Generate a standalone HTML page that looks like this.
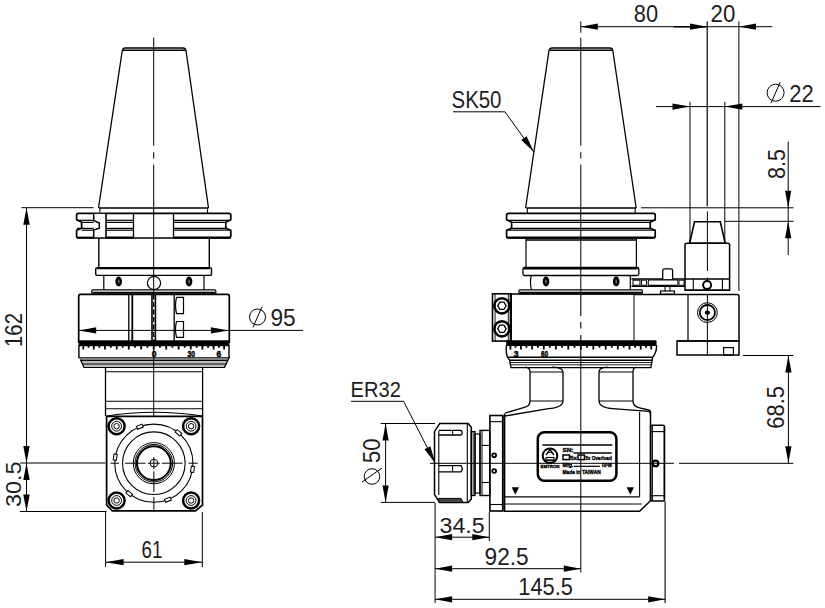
<!DOCTYPE html>
<html><head><meta charset="utf-8"><style>
html,body{margin:0;padding:0;background:#fff;}
body{width:825px;height:608px;overflow:hidden;}
svg{display:block;}
text{font-family:"Liberation Sans",sans-serif;fill:#1c1c1c;stroke:none;}
</style></head><body>
<svg width="825" height="608" viewBox="0 0 825 608" stroke="#000" fill="none" stroke-linecap="butt">
<line x1="153.7" y1="37.6" x2="153.7" y2="145.8" stroke-width="1.0" />
<line x1="153.7" y1="152.2" x2="153.7" y2="158.6" stroke-width="1.0" />
<line x1="153.7" y1="164.6" x2="153.7" y2="294.4" stroke-width="1.0" />
<line x1="153.7" y1="341" x2="153.7" y2="455" stroke-width="1.0" />
<path d="M98.5,208 L122.3,50.5 Q123,48 125,48 L183,48 Q185.5,48 186,50.5 L208.5,208" fill="none" stroke-width="1.3" />
<line x1="123" y1="50.3" x2="185.5" y2="50.3" stroke-width="1.4" />
<line x1="98.9" y1="208" x2="208.5" y2="208" stroke-width="1.5" />
<line x1="99.9" y1="208" x2="99.9" y2="213.3" stroke-width="1.1" />
<line x1="207.5" y1="208" x2="207.5" y2="213.3" stroke-width="1.1" />
<path d="M78.6,213.3 L228.8,213.3 Q230.8,213.3 230.8,215.3 L230.8,219.8 L225.8,222.3 L225.8,228.2 L230.8,230.3 L230.8,236 Q230.8,238 228.8,238 L78.6,238 Q76.6,238 76.6,236 L76.6,230.3 L81.6,228.2 L81.6,222.3 L76.6,219.8 L76.6,215.3 Q76.6,213.3 78.6,213.3 Z" fill="none" stroke-width="1.7" />
<path d="M93.7,212.5 L106,212.5 L106,238.6 L93.7,238.6 Z" fill="#fff" stroke="none"/>
<path d="M93.7,213.3 L93.7,220.5 L99.3,223 L99.3,228.3 L93.7,230 L93.7,238" fill="none" stroke-width="1.5" />
<line x1="93.7" y1="213.3" x2="106" y2="213.3" stroke-width="1.2" />
<line x1="93.7" y1="238" x2="106" y2="238" stroke-width="1.4" />
<line x1="106" y1="213.3" x2="106" y2="238" stroke-width="1.6" />
<line x1="133.5" y1="213.3" x2="133.5" y2="238" stroke-width="1.3" />
<line x1="173.5" y1="213.3" x2="173.5" y2="238" stroke-width="1.3" />
<line x1="77" y1="220.3" x2="93.7" y2="220.3" stroke-width="1.2" />
<line x1="106" y1="220.3" x2="133.5" y2="220.3" stroke-width="1.2" />
<line x1="173.5" y1="220.3" x2="230.6" y2="220.3" stroke-width="1.2" />
<line x1="81.6" y1="222.4" x2="93.7" y2="222.4" stroke-width="1.2" />
<line x1="106" y1="222.4" x2="133.5" y2="222.4" stroke-width="1.2" />
<line x1="173.5" y1="222.4" x2="225.8" y2="222.4" stroke-width="1.2" />
<line x1="77" y1="228.4" x2="93.7" y2="228.4" stroke-width="1.2" />
<line x1="106" y1="228.4" x2="133.5" y2="228.4" stroke-width="1.2" />
<line x1="173.5" y1="228.4" x2="225.8" y2="228.4" stroke-width="1.2" />
<line x1="81.6" y1="230.2" x2="93.7" y2="230.2" stroke-width="1.2" />
<line x1="106" y1="230.2" x2="133.5" y2="230.2" stroke-width="1.2" />
<line x1="173.5" y1="230.2" x2="230.6" y2="230.2" stroke-width="1.2" />
<line x1="106" y1="237.6" x2="133.5" y2="237.6" stroke-width="2.2" />
<line x1="173.5" y1="237.6" x2="230" y2="237.6" stroke-width="2.2" />
<line x1="77.5" y1="237.6" x2="93.7" y2="237.6" stroke-width="2.0" />
<line x1="98.8" y1="238" x2="98.8" y2="267.5" stroke-width="1.4" />
<line x1="209.3" y1="238" x2="209.3" y2="267.5" stroke-width="1.4" />
<rect x="95.7" y="267.6" width="115.8" height="7.8" rx="1.5" fill="none" stroke-width="1.4" />
<line x1="97" y1="268.3" x2="210" y2="268.3" stroke-width="2.0" />
<line x1="103.8" y1="276" x2="103.8" y2="290" stroke-width="1.2" />
<line x1="204" y1="276" x2="204" y2="290" stroke-width="1.2" />
<ellipse cx="118.7" cy="281.5" rx="3.3" ry="4.9" fill="#000" stroke="none"/>
<ellipse cx="189" cy="281.5" rx="3.3" ry="4.9" fill="#000" stroke="none"/>
<ellipse cx="118.7" cy="281.5" rx="0.8" ry="2" fill="#777" stroke="none"/>
<ellipse cx="189" cy="281.5" rx="0.8" ry="2" fill="#777" stroke="none"/>
<circle cx="154" cy="283" r="6.6" fill="none" stroke-width="1.2" />
<rect x="91.8" y="289.8" width="124" height="4.2" rx="1" fill="none" stroke-width="1.2" />
<line x1="92.5" y1="292.6" x2="215" y2="292.6" stroke-width="1.6" />
<path d="M78.7,343 L78.7,296.4 Q78.7,294.4 80.5,294.4 L227.5,294.4 Q229.3,294.4 229.3,296.4 L229.3,343" fill="none" stroke-width="1.7" />
<line x1="128.8" y1="294.4" x2="128.8" y2="341" stroke-width="1.3" />
<line x1="132.3" y1="294.4" x2="132.3" y2="341" stroke-width="1.8" />
<line x1="152" y1="294.4" x2="152" y2="341" stroke-width="1.6" />
<line x1="155.4" y1="294.4" x2="155.4" y2="341" stroke-width="1.6" />
<line x1="153.7" y1="294.4" x2="153.7" y2="341" stroke-width="1.4" stroke-dasharray="5,2.5"/>
<line x1="174.2" y1="294.4" x2="174.2" y2="341" stroke-width="1.3" />
<path d="M176.5,297.4 L183.5,297.4 L183.5,313.6 L176.5,313.6 Q174.5,305.5 176.5,297.4" fill="none" stroke-width="1.2" />
<path d="M176.5,321.5 L183.5,321.5 L183.5,337.3 L176.5,337.3 Q174.5,329.4 176.5,321.5" fill="none" stroke-width="1.2" />
<rect x="78.7" y="340.3" width="150.6" height="5.9" rx="0" fill="#000" stroke-width="0" />
<path d="M153.70,345.5 L153.70,349.60 M159.97,345.5 L159.97,347.70 M147.43,345.5 L147.43,347.70 M166.22,345.5 L166.22,349.60 M141.18,345.5 L141.18,349.60 M172.43,345.5 L172.43,347.70 M134.97,345.5 L134.97,347.70 M178.60,345.5 L178.60,349.60 M128.80,345.5 L128.80,349.60 M184.69,345.5 L184.69,347.70 M122.71,345.5 L122.71,347.70 M190.71,345.5 L190.71,349.60 M116.69,345.5 L116.69,349.60 M196.62,345.5 L196.62,347.70 M110.78,345.5 L110.78,347.70 M202.41,345.5 L202.41,349.60 M104.99,345.5 L104.99,349.60 M208.07,345.5 L208.07,347.70 M99.33,345.5 L99.33,347.70 M213.59,345.5 L213.59,349.60 M93.81,345.5 L93.81,349.60 M218.93,345.5 L218.93,347.70 M88.47,345.5 L88.47,347.70 M224.11,345.5 L224.11,349.60 M83.29,345.5 L83.29,349.60 " fill="none" stroke-width="1.8" />
<line x1="78.9" y1="345" x2="78.9" y2="358" stroke-width="1.4" />
<line x1="229" y1="345" x2="229" y2="358" stroke-width="1.4" />
<path d="M78.9,357.8 L229,357.8 L224.5,367.4 L84,367.4 L80.5,359.5" fill="none" stroke-width="1.3" />
<line x1="80.5" y1="360.4" x2="227.5" y2="360.4" stroke-width="1.6" />
<line x1="82" y1="363.2" x2="226" y2="363.2" stroke-width="0.9" />
<line x1="82.5" y1="364.8" x2="225.5" y2="364.8" stroke-width="0.9" />
<g font-weight="bold" style="fill:#000;stroke:#000;stroke-width:0.5">
<text x="154" y="357.2" text-anchor="middle" font-size="8.5" style="fill:#000;stroke:#000;stroke-width:0.45">0</text>
<text x="191.2" y="357.2" text-anchor="middle" font-size="8.5" style="fill:#000;stroke:#000;stroke-width:0.45" textLength="7.5" lengthAdjust="spacingAndGlyphs">30</text>
<text x="218.8" y="357.2" text-anchor="middle" font-size="8.5" style="fill:#000;stroke:#000;stroke-width:0.45">6</text>
</g>
<line x1="105.5" y1="367.4" x2="105.5" y2="416" stroke-width="1.3" />
<line x1="202.6" y1="367.4" x2="202.6" y2="416" stroke-width="1.3" />
<line x1="105.5" y1="371.7" x2="202.6" y2="371.7" stroke-width="1.1" />
<line x1="105.5" y1="401.3" x2="202.6" y2="401.3" stroke-width="1.1" />
<line x1="105.5" y1="408.8" x2="202.6" y2="408.8" stroke-width="1.1" />
<path d="M106.6,416.3 L106.6,505 L112.3,510.9 L195.5,510.9 L202.5,505 L202.5,416.3 Z" fill="#fff" stroke-width="1.7"/>
<path d="M107,416 Q154,408.5 202,416" fill="none" stroke-width="1.1" />
<circle cx="116.6" cy="426.2" r="8.0" fill="none" stroke-width="2.5" />
<circle cx="116.6" cy="426.2" r="4.9" fill="none" stroke-width="1.0" />
<circle cx="116.6" cy="426.2" r="2.7" fill="none" stroke-width="1.0" />
<circle cx="191.1" cy="426.2" r="8.0" fill="none" stroke-width="2.5" />
<circle cx="191.1" cy="426.2" r="4.9" fill="none" stroke-width="1.0" />
<circle cx="191.1" cy="426.2" r="2.7" fill="none" stroke-width="1.0" />
<circle cx="116.6" cy="500.5" r="8.0" fill="none" stroke-width="2.5" />
<circle cx="116.6" cy="500.5" r="4.9" fill="none" stroke-width="1.0" />
<circle cx="116.6" cy="500.5" r="2.7" fill="none" stroke-width="1.0" />
<circle cx="191.1" cy="500.5" r="8.0" fill="none" stroke-width="2.5" />
<circle cx="191.1" cy="500.5" r="4.9" fill="none" stroke-width="1.0" />
<circle cx="191.1" cy="500.5" r="2.7" fill="none" stroke-width="1.0" />
<circle cx="153.85" cy="463.2" r="39.1" fill="none" stroke-width="1.1" />
<circle cx="153.85" cy="463.2" r="31.3" fill="none" stroke-width="1.1" />
<circle cx="153.85" cy="463.2" r="20.6" fill="none" stroke-width="1.0" />
<circle cx="153.85" cy="463.2" r="18.8" fill="none" stroke-width="1.0" />
<circle cx="153.85" cy="463.2" r="16.9" fill="none" stroke-width="2.0" />
<circle cx="153.85" cy="463.2" r="3.9" fill="none" stroke-width="1.0" />
<line x1="147.85" y1="463.2" x2="159.85" y2="463.2" stroke-width="1.0" />
<line x1="153.85" y1="457.2" x2="153.85" y2="469.2" stroke-width="1.0" />
<line x1="110.5" y1="463.2" x2="119" y2="463.2" stroke-width="1.0" />
<line x1="125" y1="463.2" x2="145.6" y2="463.2" stroke-width="1.0" />
<line x1="162" y1="463.2" x2="182.6" y2="463.2" stroke-width="1.0" />
<line x1="188.6" y1="463.2" x2="197.7" y2="463.2" stroke-width="1.0" />
<line x1="153.85" y1="471.4" x2="153.85" y2="492" stroke-width="1.0" />
<line x1="153.85" y1="497" x2="153.85" y2="512" stroke-width="1.0" />
<rect x="113.6" y="454.1" width="3.2" height="6" fill="#fff" stroke-width="1.0" transform="rotate(-171 115.2 457.1)"/>
<rect x="138.2" y="423.7" width="3.2" height="6" fill="#fff" stroke-width="1.0" transform="rotate(-111 139.8 426.7)"/>
<rect x="176.9" y="429.8" width="3.2" height="6" fill="#fff" stroke-width="1.0" transform="rotate(-51 178.5 432.8)"/>
<rect x="190.9" y="466.3" width="3.2" height="6" fill="#fff" stroke-width="1.0" transform="rotate(9 192.5 469.3)"/>
<rect x="166.3" y="496.7" width="3.2" height="6" fill="#fff" stroke-width="1.0" transform="rotate(69 167.9 499.7)"/>
<rect x="127.6" y="490.6" width="3.2" height="6" fill="#fff" stroke-width="1.0" transform="rotate(129 129.2 493.6)"/>
<line x1="21.5" y1="207.7" x2="93.6" y2="207.7" stroke-width="1.0" />
<line x1="26.5" y1="207.8" x2="26.5" y2="511.5" stroke-width="1.0" />
<path d="M26.5,207.8 L23.3,224.8 L29.7,224.8 Z" fill="#000" stroke="none"/>
<path d="M26.5,463 L23.3,446 L29.7,446 Z" fill="#000" stroke="none"/>
<path d="M26.5,463 L23.3,480 L29.7,480 Z" fill="#000" stroke="none"/>
<path d="M26.5,511.5 L23.3,494.5 L29.7,494.5 Z" fill="#000" stroke="none"/>
<line x1="20" y1="463" x2="105.5" y2="463" stroke-width="1.0" />
<line x1="20" y1="511.5" x2="106.5" y2="511.5" stroke-width="1.0" />
<text x="22.4" y="347" font-size="23" text-anchor="start" transform="rotate(-90 22.4 347)" textLength="34" lengthAdjust="spacingAndGlyphs">162</text>
<text x="20.9" y="507" font-size="22.5" text-anchor="start" transform="rotate(-90 20.9 507)" textLength="45.5" lengthAdjust="spacingAndGlyphs">30.5</text>
<line x1="105.6" y1="512" x2="105.6" y2="567" stroke-width="1.0" />
<line x1="202.3" y1="512" x2="202.3" y2="567" stroke-width="1.0" />
<line x1="105.6" y1="562.2" x2="202.3" y2="562.2" stroke-width="1.0" />
<path d="M105.6,562.2 L123.6,559.1 L123.6,565.3000000000001 Z" fill="#000" stroke="none"/>
<path d="M202.3,562.2 L184.3,559.1 L184.3,565.3000000000001 Z" fill="#000" stroke="none"/>
<text x="141.5" y="557.7" font-size="23.5" text-anchor="start" textLength="20.8" lengthAdjust="spacingAndGlyphs">61</text>
<line x1="78.7" y1="330.4" x2="303" y2="330.4" stroke-width="1.0" />
<path d="M78.7,330.4 L96.2,327.29999999999995 L96.2,333.5 Z" fill="#000" stroke="none"/>
<path d="M228.4,330.4 L210.9,327.29999999999995 L210.9,333.5 Z" fill="#000" stroke="none"/>
<g>
<circle cx="257.5" cy="317" r="8" fill="none" stroke-width="1.0" />
<line x1="252.9" y1="327.5" x2="262.1" y2="306.5" stroke-width="1.0" />
</g>
<text x="270.5" y="326" font-size="23.5" text-anchor="start" textLength="25.2" lengthAdjust="spacingAndGlyphs">95</text>
<line x1="580.8" y1="21.4" x2="580.8" y2="32.8" stroke-width="1.0" />
<line x1="580.8" y1="37.7" x2="580.8" y2="145.8" stroke-width="1.0" />
<line x1="580.8" y1="152.2" x2="580.8" y2="158.6" stroke-width="1.0" />
<line x1="580.8" y1="164.6" x2="580.8" y2="294" stroke-width="1.0" />
<line x1="580.8" y1="342" x2="580.8" y2="572.5" stroke-width="1.0" />
<path d="M525.6,208 L549,50.5 Q549.7,48 552,48 L610,48 Q612.5,48 612.8,50.5 L636.2,208" fill="none" stroke-width="1.3" />
<line x1="550" y1="50.3" x2="612.5" y2="50.3" stroke-width="1.4" />
<line x1="526.3" y1="208" x2="636.2" y2="208" stroke-width="1.5" />
<line x1="527.3" y1="208" x2="527.3" y2="213.3" stroke-width="1.1" />
<line x1="635.2" y1="208" x2="635.2" y2="213.3" stroke-width="1.1" />
<path d="M508.6,213.3 L653.2,213.3 Q655.2,213.3 655.2,215.3 L655.2,219.8 L650.2,222.3 L650.2,228.2 L655.2,230.3 L655.2,236 Q655.2,238 653.2,238 L508.6,238 Q506.6,238 506.6,236 L506.6,230.3 L511.6,228.2 L511.6,222.3 L506.6,219.8 L506.6,215.3 Q506.6,213.3 508.6,213.3 Z" fill="none" stroke-width="1.7" />
<line x1="507" y1="220.3" x2="655" y2="220.3" stroke-width="1.2" />
<line x1="507" y1="230.2" x2="655" y2="230.2" stroke-width="1.2" />
<line x1="511.6" y1="222.4" x2="650.2" y2="222.4" stroke-width="1.2" />
<line x1="511.6" y1="228.4" x2="650.2" y2="228.4" stroke-width="1.2" />
<line x1="508" y1="237.6" x2="653.5" y2="237.6" stroke-width="2.2" />
<line x1="526" y1="238.6" x2="526" y2="267.2" stroke-width="1.2" />
<line x1="636.4" y1="238.6" x2="636.4" y2="267.2" stroke-width="1.2" />
<line x1="526" y1="240" x2="636.4" y2="240" stroke-width="1.5" />
<rect x="523" y="267.5" width="115.8" height="8" rx="1.5" fill="none" stroke-width="1.3" />
<line x1="524" y1="268.3" x2="637.5" y2="268.3" stroke-width="2.2" />
<path d="M531.4,275.5 Q529.5,282 531.4,289.5" fill="none" stroke-width="1.2" />
<line x1="630.3" y1="275.5" x2="630.3" y2="289.5" stroke-width="1.2" />
<ellipse cx="546" cy="281.5" rx="3.3" ry="4.9" fill="#000" stroke="none"/>
<ellipse cx="616.2" cy="281.5" rx="3.3" ry="4.9" fill="#000" stroke="none"/>
<ellipse cx="546" cy="281.5" rx="0.8" ry="2" fill="#777" stroke="none"/>
<ellipse cx="616.2" cy="281.5" rx="0.8" ry="2" fill="#777" stroke="none"/>
<rect x="519" y="289.8" width="123.4" height="4.2" rx="1" fill="none" stroke-width="1.2" />
<line x1="519.7" y1="292.6" x2="641.7" y2="292.6" stroke-width="1.6" />
<path d="M510.3,294 L634,294" fill="none" stroke-width="1.5" />
<line x1="634" y1="294" x2="634" y2="341" stroke-width="1.0" />
<line x1="510.3" y1="294" x2="510.3" y2="342" stroke-width="1.3" />
<rect x="492.5" y="293.8" width="18.7" height="47.3" rx="0" fill="none" stroke-width="1.6" />
<line x1="495.1" y1="293.8" x2="495.1" y2="341" stroke-width="0.9" />
<line x1="508.3" y1="293.8" x2="508.3" y2="341" stroke-width="0.9" />
<circle cx="501.9" cy="305.8" r="7.6" fill="none" stroke-width="2.5" />
<path d="M497.7,305.8 L499.79999999999995,302.2 L504.0,302.2 L506.09999999999997,305.8 L504.0,309.40000000000003 L499.79999999999995,309.40000000000003 Z" fill="none" stroke-width="1.3"/>
<circle cx="501.9" cy="328.8" r="7.6" fill="none" stroke-width="2.5" />
<path d="M497.7,328.8 L499.79999999999995,325.2 L504.0,325.2 L506.09999999999997,328.8 L504.0,332.40000000000003 L499.79999999999995,332.40000000000003 Z" fill="none" stroke-width="1.3"/>
<line x1="580.8" y1="294" x2="580.8" y2="316.1" stroke-width="1.1" />
<line x1="580.8" y1="322" x2="580.8" y2="328.5" stroke-width="1.1" />
<line x1="580.8" y1="334.9" x2="580.8" y2="342" stroke-width="1.1" />
<rect x="506.2" y="340.3" width="150.3" height="5.7" rx="1" fill="#000" stroke-width="0" />
<path d="M580.80,345.5 L580.80,349.60 M587.07,345.5 L587.07,347.70 M574.53,345.5 L574.53,347.70 M593.32,345.5 L593.32,349.60 M568.28,345.5 L568.28,349.60 M599.53,345.5 L599.53,347.70 M562.07,345.5 L562.07,347.70 M605.70,345.5 L605.70,349.60 M555.90,345.5 L555.90,349.60 M611.79,345.5 L611.79,347.70 M549.81,345.5 L549.81,347.70 M617.81,345.5 L617.81,349.60 M543.79,345.5 L543.79,349.60 M623.72,345.5 L623.72,347.70 M537.88,345.5 L537.88,347.70 M629.51,345.5 L629.51,349.60 M532.09,345.5 L532.09,349.60 M635.17,345.5 L635.17,347.70 M526.43,345.5 L526.43,347.70 M640.69,345.5 L640.69,349.60 M520.91,345.5 L520.91,349.60 M646.03,345.5 L646.03,347.70 M515.57,345.5 L515.57,347.70 M651.21,345.5 L651.21,349.60 M510.39,345.5 L510.39,349.60 " fill="none" stroke-width="1.8" />
<path d="M506.5,345 Q505.5,352 507.5,357.2 L652.6,357.2 Q657,352 656.5,345" fill="none" stroke-width="1.4" />
<path d="M507.5,357.2 L509.5,360 L511,367.6 L651,367.6 L652.6,357.2" fill="none" stroke-width="1.3" />
<line x1="509" y1="360.3" x2="653" y2="360.3" stroke-width="1.6" />
<line x1="510" y1="362.5" x2="652" y2="362.5" stroke-width="0.9" />
<line x1="510.5" y1="364.8" x2="652" y2="364.8" stroke-width="0.9" />
<g font-weight="bold" style="fill:#000;stroke:#000;stroke-width:0.5">
<text x="516" y="357.2" text-anchor="middle" font-size="8.5" style="fill:#000;stroke:#000;stroke-width:0.45">3</text>
<text x="544.5" y="357.2" text-anchor="middle" font-size="8.5" style="fill:#000;stroke:#000;stroke-width:0.45" textLength="7" lengthAdjust="spacingAndGlyphs">60</text>
</g>
<path d="M525,367.2 Q530,367.5 530,372 L530,400.7 Q530,406.5 523.5,407.6 L505,413.2" fill="none" stroke-width="1.3" />
<path d="M552,367.2 Q563,367.5 563,372 L563,400.7 Q563,407.5 548.5,408.6 L505,416" fill="none" stroke-width="1.3" />
<line x1="530" y1="372" x2="563" y2="372" stroke-width="1.1" />
<line x1="530" y1="401" x2="563" y2="401" stroke-width="1.1" />
<path d="M607.6,367.2 Q599,367.5 599,372 L599,400.7 Q599,407.5 612.5,408.6 L649,411.4 L650.5,413.5" fill="none" stroke-width="1.3" />
<path d="M636.7,367.2 Q633,367.5 633,372 L633,400.7 Q633,406.5 639.6,407.8 L650.5,410.5" fill="none" stroke-width="1.3" />
<line x1="599" y1="372" x2="633" y2="372" stroke-width="1.1" />
<line x1="599" y1="401" x2="633" y2="401" stroke-width="1.1" />
<path d="M504.6,413.4 L504.6,511.2 L639.6,511.2 L650.5,500.7 L650.5,411" fill="none" stroke-width="1.5" />
<line x1="502.9" y1="415.5" x2="502.9" y2="511.2" stroke-width="1.4" />
<line x1="639.6" y1="412" x2="639.6" y2="496.8" stroke-width="1.1" />
<line x1="505" y1="496.8" x2="639.6" y2="496.8" stroke-width="1.2" />
<line x1="505" y1="504" x2="641.8" y2="504" stroke-width="1.1" />
<rect x="489.9" y="415.5" width="12.8" height="95.5" rx="0" fill="none" stroke-width="1.6" />
<line x1="489.9" y1="421.7" x2="502.7" y2="421.7" stroke-width="1.1" />
<line x1="489.9" y1="504.5" x2="502.7" y2="504.5" stroke-width="1.1" />
<circle cx="494.2" cy="455.2" r="1.9" fill="none" stroke-width="1.8" />
<circle cx="494.2" cy="471" r="1.9" fill="none" stroke-width="1.8" />
<rect x="650.7" y="425.2" width="13.8" height="75.8" rx="1.5" fill="none" stroke-width="1.6" />
<line x1="664.3" y1="427" x2="664.3" y2="499" stroke-width="1.2" />
<line x1="652.5" y1="425.5" x2="652.5" y2="501.2" stroke-width="0.9" />
<line x1="650.7" y1="431.6" x2="664.5" y2="431.6" stroke-width="1.1" />
<line x1="650.7" y1="495.7" x2="664.5" y2="495.7" stroke-width="1.1" />
<circle cx="655.6" cy="463.4" r="2.8" fill="none" stroke-width="2.2" />
<rect x="537.8" y="432.2" width="78.6" height="48.5" rx="6.5" fill="none" stroke-width="2.5" />
<line x1="542.5" y1="445.1" x2="612.4" y2="445.1" stroke-width="1.5" />
<circle cx="550" cy="455.8" r="7.3" fill="none" stroke-width="2.0" />
<path d="M546,455 L550,449.5 L554,455" fill="none" stroke-width="1.3" />
<line x1="547.5" y1="452.5" x2="552.5" y2="452.5" stroke-width="0.9" />
<rect x="546" y="457.5" width="8" height="2.4" rx="0" fill="none" stroke-width="1.1" />
<line x1="545" y1="460.7" x2="555" y2="460.7" stroke-width="1.1" />
<g font-size="5.6" font-weight="bold" style="fill:#000;stroke:#000;stroke-width:0.35">
<text x="562.5" y="452.3" textLength="11" lengthAdjust="spacingAndGlyphs" style="fill:#000;stroke:#000;stroke-width:0.35">SN:</text>
<text x="570" y="460" textLength="7" lengthAdjust="spacingAndGlyphs" style="fill:#000;stroke:#000;stroke-width:0.35">5x</text>
<text x="585.3" y="460" textLength="26.4" lengthAdjust="spacingAndGlyphs" style="fill:#000;stroke:#000;stroke-width:0.35">3x Overload</text>
<text x="562.5" y="466.8" textLength="11" lengthAdjust="spacingAndGlyphs" style="fill:#000;stroke:#000;stroke-width:0.35">Mfg.</text>
<text x="601.9" y="466.8" textLength="9.8" lengthAdjust="spacingAndGlyphs" style="fill:#000;stroke:#000;stroke-width:0.35">RPM</text>
<text x="562.5" y="473.8" textLength="38.2" lengthAdjust="spacingAndGlyphs" style="fill:#000;stroke:#000;stroke-width:0.35">Made in TAIWAN</text>
<text x="540.5" y="468" font-size="4" textLength="19" lengthAdjust="spacingAndGlyphs" style="fill:#000;stroke:#000;stroke-width:0.3">EMTRON</text>
</g>
<line x1="573.5" y1="452.9" x2="611.7" y2="452.9" stroke-width="1.5" />
<line x1="574" y1="466.3" x2="599.9" y2="466.3" stroke-width="1.2" />
<rect x="563" y="455" width="6.5" height="4.6" rx="0" fill="none" stroke-width="1.5" />
<rect x="578" y="455" width="6.5" height="4.6" rx="0" fill="none" stroke-width="1.5" />
<path d="M512,487.6 L518.6,487.6 L515.3,494.2 Z" fill="#000" stroke-width="0.5" />
<path d="M627,487.6 L633.6,487.6 L630.3,494.2 Z" fill="#000" stroke-width="0.5" />
<line x1="430" y1="463.3" x2="673.9" y2="463.3" stroke-width="1.0" />
<path d="M439.7,423.5 L468.2,423.5 L471.3,427.3 L471.3,499 L468.2,502.5 L439.7,502.5 L434.5,494.6 L434.5,431.6 Z" fill="none" stroke-width="1.5" />
<line x1="438.8" y1="431" x2="438.8" y2="495" stroke-width="1.1" />
<line x1="467.3" y1="423.5" x2="467.3" y2="502.5" stroke-width="1.1" />
<path d="M438.8,430.4 L461,430.4 Q463.5,432.7 461,435 L438.8,435" fill="none" stroke-width="1.3" />
<line x1="452.6" y1="430.4" x2="452.6" y2="435" stroke-width="1.0" />
<path d="M438.8,465.6 L461,465.6 Q463.5,468.70000000000005 461,471.8 L438.8,471.8" fill="none" stroke-width="1.3" />
<line x1="452.6" y1="465.6" x2="452.6" y2="471.8" stroke-width="1.0" />
<path d="M438.8,498.4 L461,498.4 L463,502.5 L438.8,502.5 Z" fill="#444" stroke-width="1"/>
<rect x="471.3" y="431.6" width="3.7" height="63.9" rx="0" fill="none" stroke-width="1.3" />
<line x1="473.2" y1="431.6" x2="473.2" y2="495.5" stroke-width="0.9" />
<rect x="475" y="434" width="5" height="59" rx="0" fill="none" stroke-width="1.2" />
<rect x="480" y="430.4" width="9.8" height="65.1" rx="0" fill="none" stroke-width="1.4" />
<line x1="482" y1="430.4" x2="482" y2="495.5" stroke-width="1.0" />
<line x1="482" y1="445.4" x2="489.8" y2="445.4" stroke-width="1.1" />
<line x1="482" y1="482.5" x2="489.8" y2="482.5" stroke-width="1.1" />
<text x="350.6" y="397" font-size="22.5" text-anchor="start" textLength="50.3" lengthAdjust="spacingAndGlyphs">ER32</text>
<line x1="351" y1="401.3" x2="403.6" y2="401.3" stroke-width="1.0" />
<line x1="403.6" y1="401.3" x2="435.1" y2="462.9" stroke-width="1.0" />
<path d="M435.1,462.9 L424.5,449.2 L430.4,446.2 Z" fill="#000" stroke="none"/>
<line x1="380.7" y1="423.5" x2="435" y2="423.5" stroke-width="1.0" />
<line x1="380.7" y1="502.4" x2="435" y2="502.4" stroke-width="1.0" />
<line x1="385.6" y1="423.5" x2="385.6" y2="502.4" stroke-width="1.0" />
<path d="M385.6,423.5 L382.5,440.5 L388.70000000000005,440.5 Z" fill="#000" stroke="none"/>
<path d="M385.6,502.4 L382.5,485.4 L388.70000000000005,485.4 Z" fill="#000" stroke="none"/>
<circle cx="372" cy="476.5" r="7.8" fill="none" stroke-width="1.0" />
<line x1="382" y1="468" x2="362" y2="482" stroke-width="1.0" />
<text x="380.2" y="463" font-size="23.5" text-anchor="start" transform="rotate(-90 380.2 463)" textLength="24.5" lengthAdjust="spacingAndGlyphs">50</text>
<line x1="435.1" y1="503" x2="435.1" y2="603" stroke-width="1.0" />
<line x1="489.3" y1="512" x2="489.3" y2="541" stroke-width="1.0" />
<line x1="435.1" y1="537.2" x2="489.3" y2="537.2" stroke-width="1.0" />
<path d="M435.1,537.2 L452.1,534.1 L452.1,540.3000000000001 Z" fill="#000" stroke="none"/>
<path d="M489.3,537.2 L472.3,534.1 L472.3,540.3000000000001 Z" fill="#000" stroke="none"/>
<text x="439.5" y="532.5" font-size="22.5" text-anchor="start" textLength="45.1" lengthAdjust="spacingAndGlyphs">34.5</text>
<line x1="435.1" y1="568.7" x2="580.8" y2="568.7" stroke-width="1.0" />
<path d="M435.1,568.7 L452.1,565.6 L452.1,571.8000000000001 Z" fill="#000" stroke="none"/>
<path d="M580.8,568.7 L563.8,565.6 L563.8,571.8000000000001 Z" fill="#000" stroke="none"/>
<text x="484.6" y="564.6" font-size="23" text-anchor="start" textLength="44.1" lengthAdjust="spacingAndGlyphs">92.5</text>
<line x1="665.1" y1="501" x2="665.1" y2="603" stroke-width="1.1" />
<line x1="435.1" y1="599.3" x2="665.2" y2="599.3" stroke-width="1.0" />
<path d="M435.1,599.3 L452.1,596.1999999999999 L452.1,602.4 Z" fill="#000" stroke="none"/>
<path d="M665.2,599.3 L648.2,596.1999999999999 L648.2,602.4 Z" fill="#000" stroke="none"/>
<text x="518.3" y="594.5" font-size="23" text-anchor="start" textLength="54.6" lengthAdjust="spacingAndGlyphs">145.5</text>
<text x="451.5" y="108.2" font-size="23.5" text-anchor="start" textLength="50" lengthAdjust="spacingAndGlyphs">SK50</text>
<line x1="453" y1="111.8" x2="504.9" y2="111.8" stroke-width="1.0" />
<line x1="504.9" y1="111.8" x2="533.9" y2="152" stroke-width="1.0" />
<path d="M533.9,152 L521.3,140.1 L526.6,136.3 Z" fill="#000" stroke="none"/>
<line x1="580.8" y1="26.7" x2="772.3" y2="26.7" stroke-width="1.0" />
<line x1="673.6" y1="26.7" x2="707" y2="26.7" stroke-width="1.6" />
<path d="M580.8,26.7 L597.8,23.599999999999998 L597.8,29.8 Z" fill="#000" stroke="none"/>
<path d="M707,26.7 L690,23.599999999999998 L690,29.8 Z" fill="#000" stroke="none"/>
<path d="M739,26.7 L756,23.599999999999998 L756,29.8 Z" fill="#000" stroke="none"/>
<text x="633.8" y="22" font-size="23.5" text-anchor="start" textLength="24.3" lengthAdjust="spacingAndGlyphs">80</text>
<text x="710.6" y="22" font-size="23.5" text-anchor="start" textLength="24.7" lengthAdjust="spacingAndGlyphs">20</text>
<line x1="707.2" y1="21.5" x2="707.2" y2="206.2" stroke-width="1.2" />
<line x1="707.4" y1="211.4" x2="707.4" y2="271" stroke-width="1.0" />
<line x1="707.4" y1="277.6" x2="707.4" y2="281" stroke-width="1.0" />
<line x1="738.9" y1="21.5" x2="738.9" y2="290.8" stroke-width="1.0" />
<line x1="656" y1="106.6" x2="820.5" y2="106.6" stroke-width="1.0" />
<path d="M690,106.6 L672.5,103.39999999999999 L672.5,109.8 Z" fill="#000" stroke="none"/>
<path d="M724.8,106.6 L742.3,103.39999999999999 L742.3,109.8 Z" fill="#000" stroke="none"/>
<line x1="690" y1="101.8" x2="690" y2="242" stroke-width="1.0" />
<line x1="724.8" y1="101.8" x2="724.8" y2="242" stroke-width="1.0" />
<g>
<circle cx="775.6" cy="92.7" r="8.5" fill="none" stroke-width="1.0" />
<line x1="771.0" y1="103.2" x2="780.2" y2="82.2" stroke-width="1.0" />
</g>
<text x="789.2" y="102.2" font-size="23.5" text-anchor="start" textLength="24.4" lengthAdjust="spacingAndGlyphs">22</text>
<line x1="641" y1="207.8" x2="793.5" y2="207.8" stroke-width="1.0" />
<line x1="725" y1="221.3" x2="793.5" y2="221.3" stroke-width="1.0" />
<line x1="788.2" y1="141.7" x2="788.2" y2="255" stroke-width="1.0" />
<path d="M788.2,207.8 L785.1,190.8 L791.3000000000001,190.8 Z" fill="#000" stroke="none"/>
<path d="M788.2,221.3 L785.1,238.3 L791.3000000000001,238.3 Z" fill="#000" stroke="none"/>
<text x="784.5" y="179" font-size="23.5" text-anchor="start" transform="rotate(-90 784.5 179)" textLength="30" lengthAdjust="spacingAndGlyphs">8.5</text>
<line x1="742.8" y1="355.5" x2="793.4" y2="355.5" stroke-width="1.0" />
<line x1="679" y1="463.3" x2="793.4" y2="463.3" stroke-width="1.0" />
<line x1="788.4" y1="355.5" x2="788.4" y2="463.2" stroke-width="1.0" />
<path d="M788.4,355.5 L785.3,372.5 L791.5,372.5 Z" fill="#000" stroke="none"/>
<path d="M788.4,463.2 L785.3,446.2 L791.5,446.2 Z" fill="#000" stroke="none"/>
<text x="783.6" y="428.7" font-size="23.5" text-anchor="start" transform="rotate(-90 783.6 428.7)" textLength="42.7" lengthAdjust="spacingAndGlyphs">68.5</text>
<path d="M694.5,221.7 L720.3,221.7 L725.2,243.2 L689.6,243.2 Z" fill="none" stroke-width="1.6" />
<path d="M685,290.2 L685,245 Q685,243.2 687,243.2 L727.6,243.2 Q729.6,243.2 729.6,245 L729.6,290.2 Z" fill="none" stroke-width="1.5"/>
<line x1="685" y1="279" x2="729.6" y2="279" stroke-width="1.4" />
<line x1="693.3" y1="279" x2="693.3" y2="290.2" stroke-width="1.1" />
<line x1="722.4" y1="279" x2="722.4" y2="290.2" stroke-width="1.1" />
<circle cx="707.1" cy="285.1" r="4.0" fill="none" stroke-width="2.0" />
<line x1="685" y1="290.2" x2="729.6" y2="290.2" stroke-width="1.5" />
<path d="M631.5,279 L685,279 M631.5,286.3 L685,286.3" fill="none" stroke-width="1.4" />
<rect x="648.2" y="280" width="29.8" height="5.4" rx="1.5" fill="none" stroke-width="1.1" />
<rect x="633" y="280.2" width="7" height="5" rx="0" fill="none" stroke-width="1.0" />
<rect x="641.5" y="280.2" width="5" height="5" rx="0" fill="none" stroke-width="0.9" />
<rect x="679" y="280.2" width="5" height="5" rx="0" fill="none" stroke-width="0.9" />
<path d="M662.7,279 L662.7,270.5 Q662.7,268.8 664.5,268.8 L670.8,268.8 Q672.6,268.8 672.6,270.5 L672.6,279" fill="#fff" stroke-width="1.3"/>
<line x1="665" y1="286.3" x2="665" y2="291" stroke-width="1.1" />
<line x1="670" y1="286.3" x2="670" y2="291" stroke-width="1.1" />
<rect x="660.5" y="291" width="13.9" height="3.2" rx="0" fill="none" stroke-width="1.2" />
<path d="M634,294.4 L737,294.4 Q739,294.4 739,296.4 L739,341 L677,341" fill="none" stroke-width="1.5" />
<line x1="688" y1="294.5" x2="688" y2="341" stroke-width="1.2" />
<line x1="707.4" y1="294.5" x2="707.4" y2="355" stroke-width="1.0" />
<circle cx="707.4" cy="312.6" r="9.9" fill="none" stroke-width="1.0" />
<circle cx="707.4" cy="312.6" r="7.6" fill="none" stroke-width="1.8" />
<ellipse cx="707.4" cy="312.6" rx="2.6" ry="2.2" fill="#000" stroke="none"/>
<rect x="677" y="341" width="62" height="14" rx="0" fill="none" stroke-width="1.5" />
<rect x="723.6" y="347.6" width="9.8" height="7.4" rx="0" fill="none" stroke-width="1.2" />
</svg></body></html>
